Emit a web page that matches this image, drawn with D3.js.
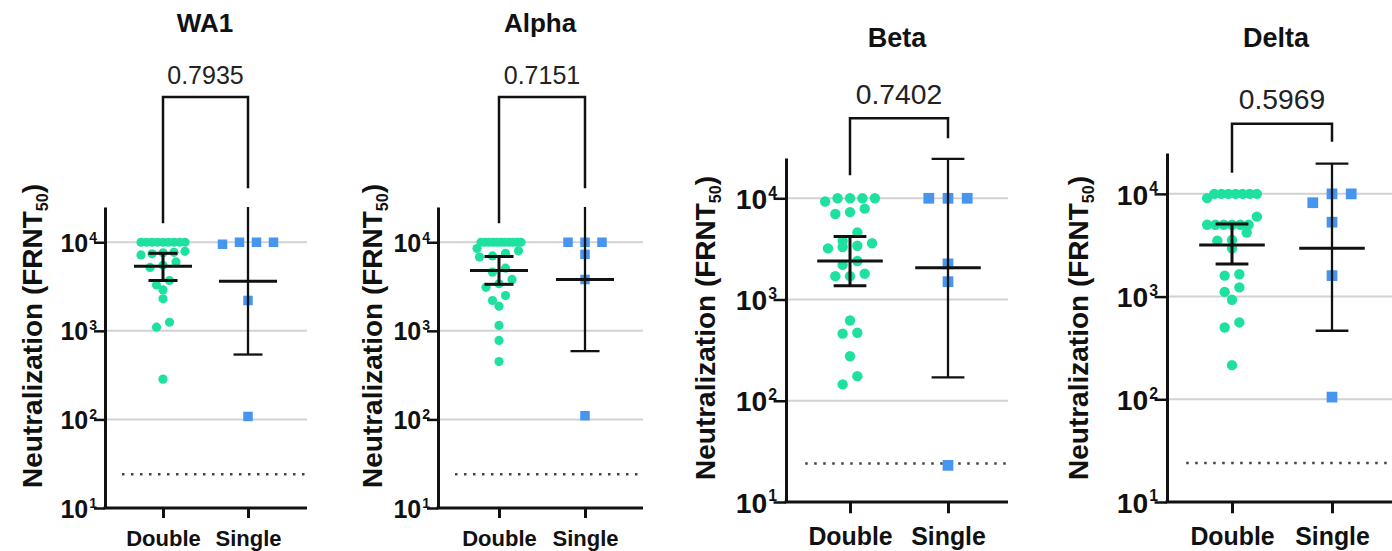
<!DOCTYPE html>
<html>
<head>
<meta charset="utf-8">
<script src="https://cdn.jsdelivr.net/npm/d3@7"></script>
<style>
body { margin: 0; background: #fff; }
svg { display: block; font-family: "Liberation Sans", Arial, sans-serif; }
</style>
</head>
<body>
<div id="chart"></div>
<script>
// ---- data ----
const variants = ['WA1', 'Alpha', 'Beta', 'Delta'];
const groups = ['Double', 'Single'];
const pValues = ['0.7935', '0.7151', '0.7402', '0.5969'];
const yTicks = [10, 100, 1000, 10000];
const yMax = 25000;
const detectionLimit = 24;

const doubleWA1 = [10000, 10000, 10000, 10000, 10000, 10000, 10000, 10000, 10000,
    7900, 7700, 7600, 7400, 7200, 6000, 5500, 5200, 3700, 3300, 2900, 2300, 1250, 1100, 285];
const singleWA1 = [10000, 10000, 9500, 10000, 2200, 108];

const doubleAlpha = [10000, 10000, 10000, 10000, 10000, 10000, 10000, 10000, 10000, 10000, 10000,
    8500, 8000, 7500, 7000, 6800, 5100, 4600, 3800, 3400, 3100, 2500, 2200, 1900, 1150, 780, 450];
const singleAlpha = [10000, 10000, 10000, 7300, 3800, 110];

const doubleBeta = [10000, 10000, 10000, 10000, 9300, 7900, 7300, 7000, 4600,
    3800, 3600, 3400, 3300, 3200, 2400, 2200, 1800, 1700, 1700, 620, 470, 460, 275, 175, 145];
const singleBeta = [10000, 10000, 10000, 2250, 1500, 23];

const doubleDelta = [10000, 10000, 10000, 10000, 10000, 10000, 10000, 9100, 6000,
    5000, 5000, 5000, 5000, 5000, 5000, 4200, 3550, 3500, 2950, 1650, 1600, 1230, 1110, 930, 560, 500, 215];
const singleDelta = [10000, 10000, 8200, 5300, 1600, 105];

// geometric mean with 95% CI as drawn: [mean, lower, upper]
const doubleStats = [[5370, 3700, 7500], [4800, 3350, 6900], [2400, 1370, 4200], [3180, 2080, 5100]];
const singleStats = [[3620, 540, 26000], [3800, 590, 28000], [2060, 170, 24500], [2960, 465, 19700]];

const doubleValues = [doubleWA1, doubleAlpha, doubleBeta, doubleDelta];
const singleValues = [singleWA1, singleAlpha, singleBeta, singleDelta];

// ---- panel layout (pixels) ----
const layout = [
    { x0: 105, x1: 307, top: 207, bottom: 508, cx: [163, 248], s: 1, titleX: 205, titleY: 32, labelX: 32, labelY: 336, bracket: [10 ** 5.64, 10 ** 4.215, 10 ** 4.61] },
    { x0: 438, x1: 643, top: 207, bottom: 508, cx: [499, 585], s: 1, titleX: 540, titleY: 32, labelX: 372, labelY: 336, bracket: [10 ** 5.64, 10 ** 4.215, 10 ** 4.61] },
    { x0: 786, x1: 1008, top: 158, bottom: 502, cx: [850, 948], s: 1.13, titleX: 897, titleY: 47, labelX: 705, labelY: 328, bracket: [10 ** 4.79, 10 ** 4.227, 10 ** 4.593] },
    { x0: 1167, x1: 1400, top: 153, bottom: 502, cx: [1232, 1332], s: 1.13, titleX: 1276, titleY: 47, labelX: 1078, labelY: 328, bracket: [10 ** 4.682, 10 ** 4.205, 10 ** 4.507] }
];

const green = '#1fe19f';
const blue = '#4695ee';

const svg = d3.select('#chart').append('svg')
    .attr('width', 1392)
    .attr('height', 551);

// simple row-based scatter spread, like GraphPad column scatter
function spread(values, y, cx, spacing, maxSpan, rowH) {
    const pts = values.map(v => ({ v, y: y(v) })).sort((a, b) => a.y - b.y);
    const rows = [];
    pts.forEach(p => {
        const row = rows[rows.length - 1];
        if (row && p.y - row[0].y < rowH) row.push(p);
        else rows.push([p]);
    });
    const out = [];
    rows.forEach(row => {
        row.sort((a, b) => a.v - b.v);
        const n = row.length;
        const step = n > 1 ? Math.min(spacing, maxSpan / (n - 1)) : 0;
        row.forEach((p, i) => out.push({ v: p.v, y: p.y, x: cx + (i - (n - 1) / 2) * step }));
    });
    return out;
}

variants.forEach((name, i) => {
    const L = layout[i];
    const s = L.s;
    const g = svg.append('g').attr('class', 'panel');

    const y = d3.scaleLog().domain([10, yMax]).range([L.bottom, L.top]);
    const x = d3.scalePoint().domain(groups).range(L.cx);

    // grid lines
    g.selectAll('.grid')
        .data(yTicks.slice(1))
        .enter()
        .append('line')
        .attr('x1', L.x0).attr('x2', L.x1)
        .attr('y1', d => y(d)).attr('y2', d => y(d))
        .attr('stroke', '#d2d2d2')
        .attr('stroke-width', 2);

    // limit of detection
    g.append('line')
        .attr('x1', L.x0 + 17 * s).attr('x2', L.x1)
        .attr('y1', y(detectionLimit)).attr('y2', y(detectionLimit))
        .attr('stroke', '#444')
        .attr('stroke-width', 2.5)
        .attr('stroke-dasharray', '2.5 6.5');

    // points
    const dPts = spread(doubleValues[i], y, x('Double'), 13 * s, 44 * s, 8.5 * s);
    g.selectAll('.dot')
        .data(dPts)
        .enter()
        .append('circle')
        .attr('cx', d => d.x)
        .attr('cy', d => d.y)
        .attr('r', 4.6 * s)
        .attr('fill', green);

    const sPts = spread(singleValues[i], y, x('Single'), 17 * s, 60 * s, 8.5 * s);
    const sq = 9.5 * s;
    g.selectAll('.sq')
        .data(sPts)
        .enter()
        .append('rect')
        .attr('x', d => d.x - sq / 2)
        .attr('y', d => d.y - sq / 2)
        .attr('width', sq)
        .attr('height', sq)
        .attr('fill', blue);

    // mean and 95% CI
    [[doubleStats[i], 'Double', 3], [singleStats[i], 'Single', 2.3]].forEach(([st, grp, w]) => {
        const cx = x(grp);
        const hi = Math.min(st[2], yMax);
        g.append('line')
            .attr('x1', cx).attr('x2', cx)
            .attr('y1', y(st[1])).attr('y2', y(hi))
            .attr('stroke', '#111').attr('stroke-width', w);
        const caps = st[2] < yMax ? [st[1], st[2]] : [st[1]];
        caps.forEach(v => {
            g.append('line')
                .attr('x1', cx - 14.5 * s).attr('x2', cx + 14.5 * s)
                .attr('y1', y(v)).attr('y2', y(v))
                .attr('stroke', '#111').attr('stroke-width', w);
        });
        g.append('line')
            .attr('x1', cx - 29 * s).attr('x2', cx + 29 * s)
            .attr('y1', y(st[0])).attr('y2', y(st[0]))
            .attr('stroke', '#111').attr('stroke-width', 3);
    });

    // y axis
    const yAxis = d3.axisLeft(y)
        .tickValues(yTicks)
        .tickSize(11 * s)
        .tickSizeOuter(0)
        .tickPadding(0);

    const ya = g.append('g')
        .attr('transform', `translate(${L.x0},0)`)
        .call(yAxis);
    ya.select('.domain').attr('stroke', '#111').attr('stroke-width', 3);
    ya.selectAll('.tick line').attr('stroke', '#111').attr('stroke-width', 2.5);
    ya.selectAll('.tick text')
        .attr('x', -8 * s)
        .attr('dy', '0.36em')
        .attr('fill', '#111')
        .attr('font-family', '"Liberation Sans", Arial, sans-serif')
        .attr('font-weight', 'bold')
        .attr('font-size', 25 * s)
        .each(function (d) {
            const t = d3.select(this).text('');
            t.append('tspan').text('10');
            t.append('tspan')
                .attr('dx', 1)
                .attr('dy', -10 * s)
                .attr('font-size', 14 * s)
                .text(Math.round(Math.log10(d)));
        });

    // x axis
    g.append('line')
        .attr('x1', L.x0 - 1.5).attr('x2', L.x1)
        .attr('y1', L.bottom).attr('y2', L.bottom)
        .attr('stroke', '#111')
        .attr('stroke-width', 3);

    const xAxis = d3.axisBottom(x).tickSize(10 * s).tickPadding(12 * s);
    const xa = g.append('g')
        .attr('transform', `translate(0,${L.bottom})`)
        .call(xAxis);
    xa.select('.domain').remove();
    xa.selectAll('.tick line').attr('stroke', '#111').attr('stroke-width', 3);
    xa.selectAll('.tick text')
        .attr('fill', '#111')
        .attr('font-family', '"Liberation Sans", Arial, sans-serif')
        .attr('font-weight', 'bold')
        .attr('font-size', 22 * s);

    // y axis label
    const lab = g.append('text')
        .attr('transform', `translate(${L.labelX + 10},${L.labelY}) rotate(-90)`)
        .attr('text-anchor', 'middle')
        .attr('font-weight', 'bold')
        .attr('font-size', 28)
        .attr('fill', '#111');
    lab.append('tspan').text('Neutralization (FRNT');
    lab.append('tspan').attr('dy', 6).attr('font-size', 16).text('50');
    lab.append('tspan').attr('dy', -6).text(')');

    // comparison bracket and p value
    const [bTop, bLeft, bRight] = L.bracket;
    g.append('path')
        .attr('d', `M${x('Double')},${y(bLeft)}V${y(bTop)}H${x('Single')}V${y(bRight)}`)
        .attr('fill', 'none')
        .attr('stroke', '#111')
        .attr('stroke-width', 2.5);

    g.append('text')
        .attr('x', (x('Double') + x('Single')) / 2)
        .attr('y', y(bTop) - 13 * s)
        .attr('text-anchor', 'middle')
        .attr('font-size', 25 * s)
        .attr('fill', '#222')
        .text(pValues[i]);

    // title
    g.append('text')
        .attr('x', L.titleX)
        .attr('y', L.titleY)
        .attr('text-anchor', 'middle')
        .attr('font-weight', 'bold')
        .attr('font-size', i < 2 ? 26 : 27)
        .attr('fill', '#111')
        .text(name);
});
</script>
</body>
</html>
